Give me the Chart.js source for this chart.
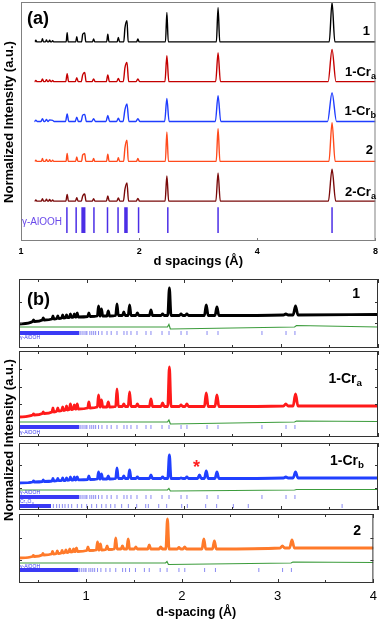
<!DOCTYPE html>
<html>
<head>
<meta charset="utf-8">
<script src="https://cdn.jsdelivr.net/npm/chart.js@4.4.1/dist/chart.umd.min.js"></script>
<style>
  body { margin: 0; background: #fff; width: 383px; height: 620px; position: relative; overflow: hidden;
         font-family: Arial, "Liberation Sans", Helvetica, sans-serif; }
  canvas { position: absolute; left: 0; }
  .t { position: absolute; font-weight: bold; line-height: 1; white-space: nowrap; color: #000; }
  .s { font-size: 0.7em; position: relative; top: 0.3em; }
  .ph { position: absolute; font-size: 5px; line-height: 1; color: #3a3af0; white-space: nowrap; }
  .yt { position: absolute; font-weight: bold; font-size: 13px; line-height: 1; white-space: nowrap;
        transform: translate(-50%, -50%) rotate(-90deg); }
</style>
</head>
<body>
<canvas id="ca" width="383" height="272" style="top:0px"></canvas>
<canvas id="cb1" width="383" height="71" style="top:278px"></canvas>
<canvas id="cb2" width="383" height="88" style="top:350px"></canvas>
<canvas id="cb3" width="383" height="69" style="top:442px"></canvas>
<canvas id="cb4" width="383" height="107" style="top:513px"></canvas>

<div class="yt" style="left:8px;top:122px">Normalized Intensity (a.u.)</div>
<div class="yt" style="left:8px;top:440px">Normalized Intensity (a.u.)</div>

<div class="t" style="left:27px;top:9px;font-size:18px">(a)</div>
<div class="t" style="right:13px;top:24px;font-size:13px">1</div>
<div class="t" style="right:7px;top:65px;font-size:13px">1-Cr<span class="s">a</span></div>
<div class="t" style="right:7px;top:104px;font-size:13px">1-Cr<span class="s">b</span></div>
<div class="t" style="right:10px;top:143px;font-size:13px">2</div>
<div class="t" style="right:7px;top:185px;font-size:13px">2-Cr<span class="s">a</span></div>
<div class="t" style="left:22px;top:217px;font-size:10px;font-weight:normal;color:#6b4bea">γ-AlOOH</div>

<div class="t" style="left:27px;top:290px;font-size:18px">(b)</div>
<div class="t" style="right:23px;top:286px;font-size:14px">1</div>
<div class="t" style="right:21px;top:371px;font-size:14px">1-Cr<span class="s">a</span></div>
<div class="t" style="right:19px;top:453px;font-size:14px">1-Cr<span class="s">b</span></div>
<div class="t" style="right:22px;top:523px;font-size:14px">2</div>
<div class="t" style="left:193px;top:458px;font-size:18px;color:#ff2020">*</div>

<div class="ph" style="left:20px;top:335px">γ-AlOOH</div>
<div class="ph" style="left:20px;top:430px">γ-AlOOH</div>
<div class="ph" style="left:20px;top:490px">γ-AlOOH</div>
<div class="ph" style="left:20px;top:499px">Cr<sub>2</sub>O<sub>3</sub></div>
<div class="ph" style="left:20px;top:564px">γ-AlOOH</div>

<script>
// ---------- panel (a): normalized patterns on a log d axis ----------
const aTickVals = [1, 2, 4, 8];
const aPeakD  = [1.091, 1.134, 1.161, 1.183, 1.204, 1.311, 1.387, 1.436, 1.453, 1.531, 1.664, 1.770, 1.840, 1.862, 1.985, 2.353, 3.177, 6.20];
const aH_1    = [0.04, 0.08, 0.05, 0.04, 0.03, 0.23, 0.13, 0.19, 0.22, 0.07, 0.19, 0.11, 0.35, 0.53, 0.07, 0.74, 0.86, 0.99];
const aH_1Cra = [0.03, 0.07, 0.05, 0.04, 0.03, 0.20, 0.10, 0.17, 0.23, 0.07, 0.17, 0.08, 0.35, 0.48, 0.07, 0.65, 0.73, 0.81];
const aH_1Crb = [0.03, 0.07, 0.05, 0.04, 0.03, 0.19, 0.11, 0.16, 0.18, 0.07, 0.15, 0.08, 0.30, 0.44, 0.07, 0.58, 0.65, 0.72];
const aH_2    = [0.03, 0.07, 0.05, 0.04, 0.03, 0.20, 0.11, 0.16, 0.19, 0.07, 0.18, 0.09, 0.34, 0.53, 0.07, 0.74, 0.82, 0.97];
const aH_2Cra = [0.03, 0.06, 0.05, 0.04, 0.03, 0.17, 0.09, 0.13, 0.18, 0.06, 0.13, 0.08, 0.30, 0.46, 0.07, 0.63, 0.71, 0.80];
const aRefD   = [1.309, 1.382, 1.431, 1.442, 1.453, 1.534, 1.661, 1.767, 1.840, 1.851, 1.862, 1.993, 2.366, 3.177, 6.20];
const aRange  = [1.085, 8];

// ---------- panel (b): refinement plots ----------
const bTickVals  = [1, 2, 3, 4];
const bMinorVals = [0.5, 1.5, 2.5, 3.5];
const bPeakD   = [0.45, 0.55, 0.65, 0.70, 0.75, 0.79, 0.83, 0.87, 0.90, 1.02, 1.12, 1.15, 1.22, 1.31, 1.38, 1.44, 1.52, 1.66, 1.78, 1.85, 1.97, 2.03, 2.16, 2.23, 2.34, 3.05, 3.15];
const b1Base   = [26.5, 28, 29, 29.5, 30, 30.3, 30.6, 30.8, 31, 31.5, 32, 32, 32, 32.5, 32.5, 32.5, 32.5, 32.5, 32.5, 32.5, 32.5, 32.5, 32.5, 32.5, 32.5, 33, 33];
const b1Top    = [28, 30, 32, 32, 33, 33, 34, 34, 35, 35, 42, 39, 37, 44, 36, 43, 35, 38, 34, 60, 34, 34, 32.5, 43, 41, 34, 42];
const b1Ends   = [24, 33.5];
const b2Base   = [22, 23.5, 25, 26, 26.5, 27, 27.5, 28, 28, 29, 30, 30, 30, 30.5, 30.5, 30.5, 30.5, 30.5, 30.5, 30.5, 30.5, 30.5, 30.5, 30.5, 30.5, 31, 31];
const b2Top    = [23, 25, 29, 29, 30, 31, 33, 32, 33, 35, 42, 37, 35, 48, 33, 45, 33, 38, 34, 70, 32, 33, 30.5, 44, 42, 33, 43];
const b2Ends   = [20, 31];
const b3Base   = [28, 28.5, 29, 29.3, 29.5, 29.7, 30, 30, 30.2, 30.5, 31, 31, 31, 31.5, 31.5, 31.5, 31.5, 31.5, 31.5, 31.5, 31.5, 31.5, 31.5, 31.5, 31.5, 32, 32];
const b3Top    = [29, 30, 31.5, 31.5, 32, 32, 33, 33, 33, 34, 38, 36, 34, 42, 34, 40, 33, 35, 33, 55, 32, 33, 35, 39, 38, 33, 38];
const b3Ends   = [27, 32];
const b4Base   = [26.5, 28, 29, 29.5, 30, 30.5, 31, 31.3, 31.5, 32.5, 33, 33, 33.5, 34, 34, 34, 34, 34, 34, 34, 34, 34, 34, 34, 34, 35, 35];
const b4Top    = [27.5, 29.5, 31.5, 32, 32.5, 33, 34, 34, 35, 36, 41, 39, 37, 45, 37, 44, 36, 38, 36, 64, 35.5, 36, 34, 44, 42, 37, 43];
const b4Ends   = [25, 35];

const diffD  = [0.3, 1.83, 1.845, 1.86, 3.14, 3.16, 4.0];
const diff1  = [21, 21, 23.5, 19, 21, 22.5, 21];
const diff2  = [15, 15, 17, 13, 15, 16, 15.5];
const diff3  = [20, 20, 21.5, 19, 20, 20.5, 20.5];
const diff4  = [20, 20, 21.5, 18.5, 20, 21, 20.5];

const gammaBand  = [0.3, 0.92];
const gammaTicks = [0.93, 0.95, 0.97, 0.99, 1.0, 1.03, 1.05, 1.07, 1.09, 1.12, 1.155, 1.207, 1.25, 1.31, 1.382, 1.413, 1.454, 1.516, 1.609, 1.66, 1.774, 1.846, 1.97, 2.031, 2.238, 2.351, 2.804, 3.052, 3.144];
const cr2o3Band  = [0.3, 0.63];
const cr2o3Ticks = [0.654, 0.688, 0.716, 0.747, 0.774, 0.808, 0.843, 0.901, 0.946, 0.998, 1.049, 1.10, 1.152, 1.197, 1.245, 1.289, 1.358, 1.427, 1.513, 1.606, 1.633, 1.74, 1.822, 1.977, 2.035, 2.224, 2.337, 2.509, 2.663, 3.63];

// peaks: foot, top, foot; close peaks go top to top
function peakLine(ds, tops, bases, start, end, foot) {
  const pts = [{x: start[0], y: start[1]}];
  ds.forEach((d, i) => {
    const b = Array.isArray(bases) ? bases[i] : bases;
    const [l, r] = foot(d);
    const prevR = i > 0 ? foot(ds[i - 1])[1] : -Infinity;
    const nextL = i < ds.length - 1 ? foot(ds[i + 1])[0] : Infinity;
    if (l > prevR) pts.push({x: l, y: b});
    pts.push({x: d, y: tops[i]});
    if (r < nextL) pts.push({x: r, y: b});
  });
  pts.push({x: end[0], y: end[1]});
  return pts;
}

function tickSegs(ds, lo, hi) {
  const pts = [];
  ds.forEach(d => pts.push({x: d, y: lo}, {x: d, y: hi}, {x: d, y: null}));
  return pts;
}

const boxPlugin = {
  id: 'box',
  afterDatasetsDraw(chart, args, opts) {
    const {ctx, chartArea: {left, top, right, bottom}, scales: {x, y}} = chart;
    ctx.save();
    ctx.strokeStyle = opts.color || '#333';
    ctx.lineWidth = 1;
    ctx.strokeRect(left + 0.5, top + 0.5, right - left - 1, bottom - top - 1);
    ctx.beginPath();
    (opts.xTicks || []).forEach(([v, len]) => {
      const px = Math.round(x.getPixelForValue(v)) + 0.5;
      ctx.moveTo(px, bottom); ctx.lineTo(px, bottom - len);
      if (opts.topTicks) { ctx.moveTo(px, top); ctx.lineTo(px, top + len); }
    });
    (opts.yTicks || []).forEach(v => {
      const py = Math.round(y.getPixelForValue(v)) + 0.5;
      ctx.moveTo(left, py); ctx.lineTo(left + 3, py);
      ctx.moveTo(right, py); ctx.lineTo(right - 3, py);
    });
    ctx.stroke();
    ctx.restore();
  }
};

function baseOptions(xScale, yMax, padding, box) {
  return {
    responsive: false,
    animation: false,
    events: [],
    layout: {padding},
    elements: {point: {radius: 0}},
    plugins: {legend: {display: false}, tooltip: {enabled: false}, box},
    scales: {x: xScale, y: {display: false, min: 0, max: yMax}}
  };
}

// ---- panel (a)
const aFoot = mul => d => { const f = 1 + (0.003 + 0.0022 * d) * mul; return [d / f, d * f]; };
const aTraces = [
  {h: aH_1,    color: '#000000', off: 5, mul: 1.0},
  {h: aH_1Cra, color: '#c40000', off: 4, mul: 1.4},
  {h: aH_1Crb, color: '#1f3dff', off: 3, mul: 1.6},
  {h: aH_2,    color: '#ff4a1c', off: 2, mul: 1.1},
  {h: aH_2Cra, color: '#7a0a0a', off: 1, mul: 1.3}
];
const aDatasets = aTraces.map(t => ({
  data: peakLine(aPeakD, t.h.map(v => v + t.off), t.off, [aRange[0], t.off], [aRange[1], t.off], aFoot(t.mul)),
  borderColor: t.color, borderWidth: 1.4, cubicInterpolationMode: 'monotone'
}));
aDatasets.push({data: tickSegs(aRefD, 0.2, 0.85), borderColor: '#4b2ee6', borderWidth: 1.5, tension: 0});

new Chart(document.getElementById('ca'), {
  type: 'line',
  data: {datasets: aDatasets},
  options: baseOptions({
    type: 'logarithmic', min: 1, max: 8,
    afterBuildTicks: s => { s.ticks = aTickVals.map(v => ({value: v})); },
    afterFit: s => { s.height = 29; },
    grid: {display: false, drawTicks: false},
    border: {display: false},
    ticks: {padding: 5, color: '#000', autoSkip: false, maxRotation: 0,
            font: {size: 9, weight: 'bold', family: 'Arial'}, callback: v => String(v)},
    title: {display: true, text: 'd spacings (Å)', color: '#000',
            font: {size: 13, weight: 'bold', family: 'Arial'}, padding: {top: 0, bottom: 1}}
  }, 6, {left: 21, right: 4, top: 2, bottom: 2},
  {color: '#808080', xTicks: aTickVals.map(v => [v, 3])}),
  plugins: [boxPlugin]
});

// ---- panel (b)
const bFoot = d => { const w = 0.006 + 0.006 * d; return [d - w, d + w]; };
const bXTicks = bTickVals.map(v => [v, 4]).concat(bMinorVals.map(v => [v, 3]));

function refinement(id, yMax, obs, color, diff, rows, yTicks, last) {
  const ds = [
    {data: obs, borderColor: color, borderWidth: 2.8, cubicInterpolationMode: 'monotone'},
    {data: obs, borderColor: '#000', borderWidth: 1.3, cubicInterpolationMode: 'monotone'},
    {data: diffD.map((d, i) => ({x: d, y: diff[i]})), borderColor: '#3c9c3c', borderWidth: 1.2, tension: 0}
  ];
  rows.forEach(r => {
    ds.push({data: [{x: r.band[0], y: (r.lo + r.hi) / 2}, {x: r.band[1], y: (r.lo + r.hi) / 2}],
             borderColor: '#3a3af5', borderWidth: r.hi - r.lo, tension: 0});
    ds.push({data: tickSegs(r.ticks, r.lo, r.hi), borderColor: '#8a8af2', borderWidth: 1, tension: 0});
  });
  const xScale = last ? {
    type: 'linear', min: 0.3, max: 4,
    afterBuildTicks: s => { s.ticks = bTickVals.map(v => ({value: v})); },
    afterFit: s => { s.height = 37; },
    grid: {display: false, drawTicks: false},
    border: {display: false},
    ticks: {padding: 6, color: '#000', autoSkip: false, maxRotation: 0, font: {size: 13, family: 'Arial'}},
    title: {display: true, text: 'd-spacing (Å)', color: '#000',
            font: {size: 12.5, weight: 'bold', family: 'Arial'}, padding: {top: 0, bottom: 0}}
  } : {type: 'linear', min: 0.3, max: 4, display: false};
  new Chart(document.getElementById(id), {
    type: 'line',
    data: {datasets: ds},
    options: baseOptions(xScale, yMax, {left: 19, right: 5, top: 1, bottom: last ? 0 : 1},
      {color: '#333', xTicks: bXTicks, topTicks: true, yTicks}),
    plugins: [boxPlugin]
  });
}

refinement('cb1', 69, peakLine(bPeakD, b1Top, b1Base, [0.3, b1Ends[0]], [4, b1Ends[1]], bFoot), '#000', diff1,
  [{band: gammaBand, ticks: gammaTicks, lo: 13, hi: 17}], [25, 46], false);
refinement('cb2', 86, peakLine(bPeakD, b2Top, b2Base, [0.3, b2Ends[0]], [4, b2Ends[1]], bFoot), '#ff1a1a', diff2,
  [{band: gammaBand, ticks: gammaTicks, lo: 8, hi: 12}], [33, 50, 68], false);
refinement('cb3', 67, peakLine(bPeakD, b3Top, b3Base, [0.3, b3Ends[0]], [4, b3Ends[1]], bFoot), '#2040ff', diff3,
  [{band: gammaBand, ticks: gammaTicks, lo: 11, hi: 15}, {band: cr2o3Band, ticks: cr2o3Ticks, lo: 2, hi: 6}], [22, 45], false);
refinement('cb4', 69, peakLine(bPeakD, b4Top, b4Base, [0.3, b4Ends[0]], [4, b4Ends[1]], bFoot), '#ff7a2a', diff4,
  [{band: gammaBand, ticks: gammaTicks, lo: 11, hi: 15}], [23, 45], true);
</script>
</body>
</html>
